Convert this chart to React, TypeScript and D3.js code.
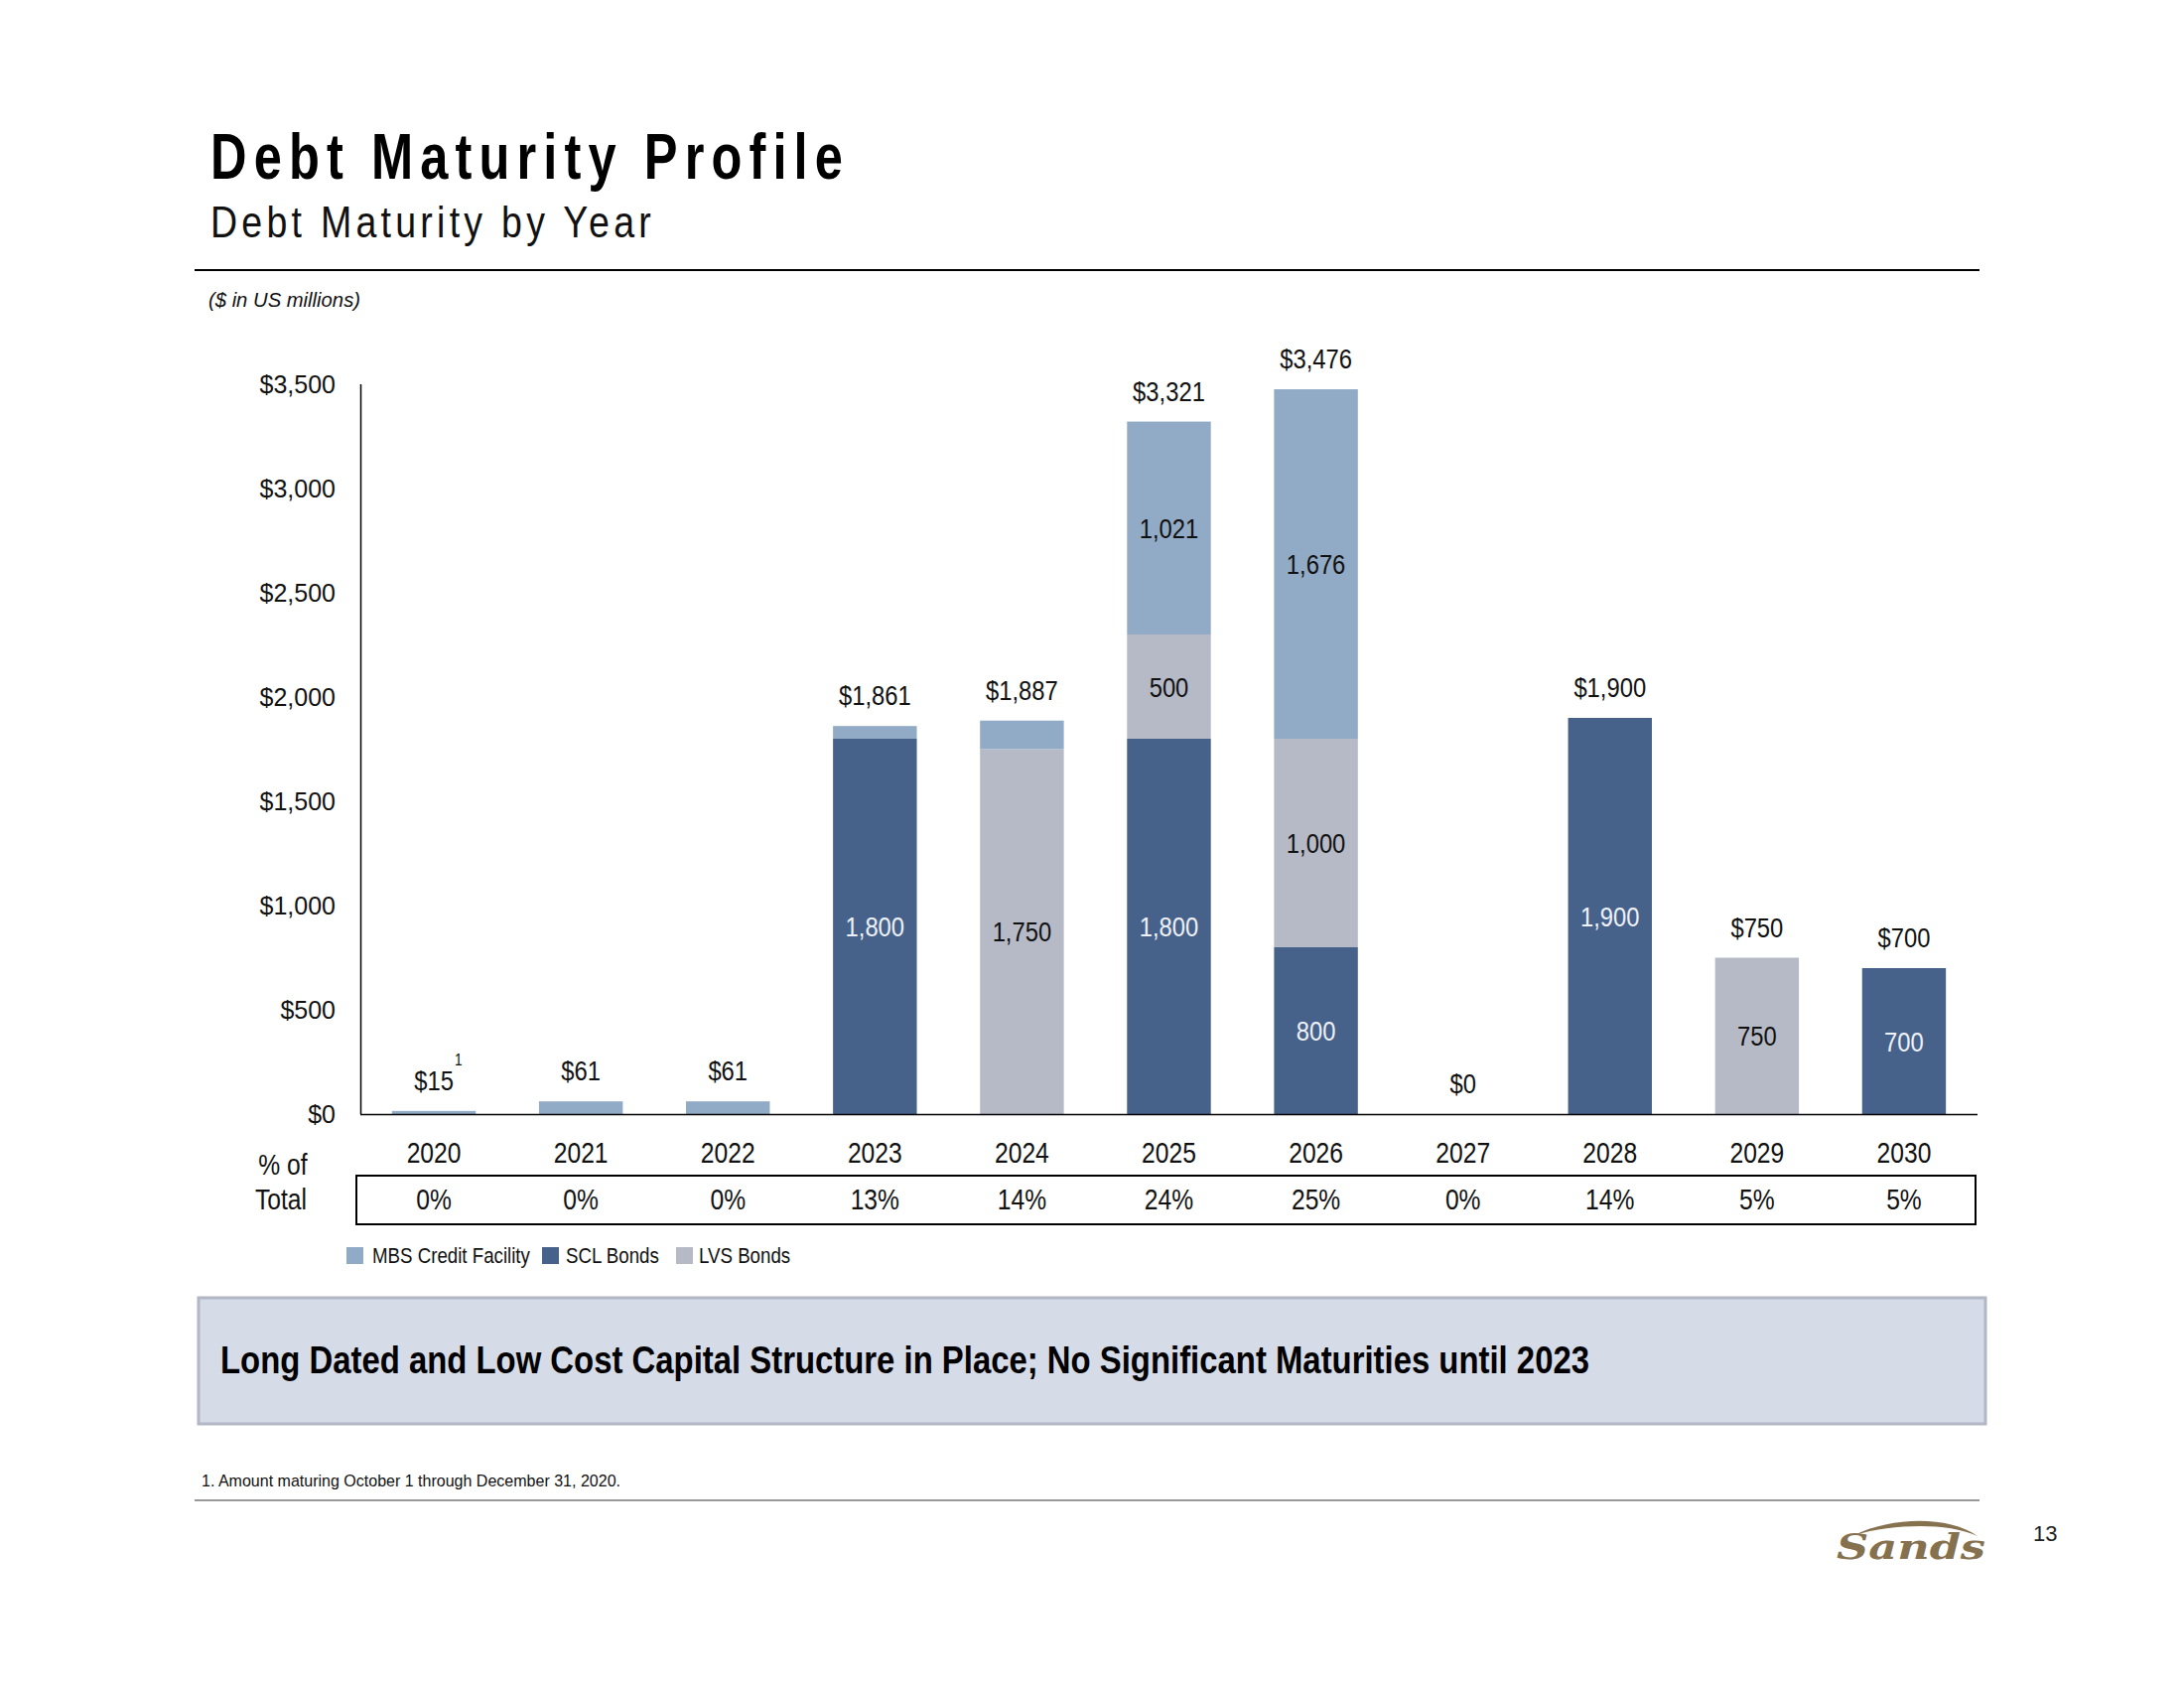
import React from "react";
import * as d3 from "d3";

const years = ["2020", "2021", "2022", "2023", "2024", "2025", "2026", "2027", "2028", "2029", "2030"];
const mbsCredit = [15, 61, 61, 61, 137, 1021, 1676, 0, 0, 0, 0];
const sclBonds = [0, 0, 0, 1800, 0, 1800, 800, 0, 1900, 0, 700];
const lvsBonds = [0, 0, 0, 0, 1750, 500, 1000, 0, 0, 750, 0];
const pctOfTotal = ["0%", "0%", "0%", "13%", "14%", "24%", "25%", "0%", "14%", "5%", "5%"];
const yTicks = [0, 500, 1000, 1500, 2000, 2500, 3000, 3500];
const seriesKeys = ["scl", "lvs", "mbs"];
const seriesNames = ["MBS Credit Facility", "SCL Bonds", "LVS Bonds"];

const COLORS: Record<string, string> = { mbs: "#91abc6", scl: "#46628a", lvs: "#b6bac7" };
const LABEL_COLORS: Record<string, string> = { mbs: "#111", scl: "#eef1f7", lvs: "#111" };
const SANS = "'Liberation Sans', Arial, sans-serif";

function NText(props: any) {
  const { x, y, sx = 0.85, children, ...rest } = props;
  return (
    <text transform={`translate(${x},${y}) scale(${sx},1)`} fontFamily={SANS} {...rest}>
      {children}
    </text>
  );
}

export default function App() {
  const rows = years.map((y, i) => ({ year: y, mbs: mbsCredit[i], scl: sclBonds[i], lvs: lvsBonds[i] }));
  const stacked = d3.stack<any>().keys(seriesKeys)(rows);
  const x = d3.scaleBand<string>().domain(years).range([363, 1992]).paddingInner(0.43).paddingOuter(0.215);
  const y = d3.scaleLinear().domain([0, 3500]).range([1122, 387]);
  const fmt = d3.format(",");
  const bw = x.bandwidth();
  const cx = (yr: string) => (x(yr) as number) + bw / 2;

  return (
    <svg width={2200} height={1700} style={{ position: "absolute", left: 0, top: 0, background: "#fff" }}>
      {/* Title */}
      <text x={212} y={180} fontFamily={SANS} fontWeight="bold" fontSize={64} letterSpacing={9} textLength={644} lengthAdjust="spacingAndGlyphs" fill="#000">
        Debt Maturity Profile
      </text>
      <text x={212} y={239} fontFamily={SANS} fontSize={44} letterSpacing={5} textLength={448} lengthAdjust="spacingAndGlyphs" fill="#111">
        Debt Maturity by Year
      </text>
      <line x1={196} x2={1994} y1={272} y2={272} stroke="#000" strokeWidth={2} />
      <text x={210} y={309} fontFamily={SANS} fontStyle="italic" fontSize={21} textLength={153} lengthAdjust="spacingAndGlyphs" fill="#111">
        ($ in US millions)
      </text>

      {/* Y axis */}
      {yTicks.map((t) => (
        <text key={t} x={338} y={y(t)} dy="0.35em" textAnchor="end" fontFamily={SANS} fontSize={25} fill="#111">
          {"$" + fmt(t)}
        </text>
      ))}
      <line x1={363.5} x2={363.5} y1={y(3500)} y2={y(0)} stroke="#000" strokeWidth={1.5} />

      {/* Bars */}
      {stacked.map((s) =>
        s.map((d, i) => {
          const v = d[1] - d[0];
          if (v <= 0) return null;
          return (
            <rect key={s.key + i} x={x(years[i])} width={bw} y={y(d[1])} height={y(d[0]) - y(d[1])} fill={COLORS[s.key]} />
          );
        })
      )}
      {stacked.map((s) =>
        s.map((d, i) => {
          const v = d[1] - d[0];
          if (v < 500) return null;
          return (
            <NText key={"l" + s.key + i} x={cx(years[i])} y={y((d[0] + d[1]) / 2)} dy="0.36em" textAnchor="middle" fontSize={28} fill={LABEL_COLORS[s.key]}>
              {fmt(v)}
            </NText>
          );
        })
      )}
      <line x1={363} x2={1992} y1={1122.5} y2={1122.5} stroke="#000" strokeWidth={1.5} />

      {/* Totals */}
      {rows.map((r, i) => {
        const tot = r.mbs + r.scl + r.lvs;
        return (
          <NText key={"t" + i} x={cx(r.year)} y={y(tot) - 21} textAnchor="middle" fontSize={28} fill="#111">
            {"$" + fmt(tot)}
          </NText>
        );
      })}
      <NText x={cx(years[0]) + 21} y={1073} fontSize={16} fill="#111">1</NText>

      {/* Year labels & % table */}
      {years.map((yr) => (
        <NText key={"y" + yr} x={cx(yr)} y={1171} textAnchor="middle" fontSize={29} fill="#111">
          {yr}
        </NText>
      ))}
      <NText x={285} y={1183} textAnchor="middle" fontSize={29} fill="#111">% of</NText>
      <NText x={283} y={1218} textAnchor="middle" fontSize={29} fill="#111">Total</NText>
      <rect x={359} y={1184} width={1631} height={49} fill="none" stroke="#000" strokeWidth={2} />
      {pctOfTotal.map((p, i) => (
        <NText key={"p" + i} x={cx(years[i])} y={1218} textAnchor="middle" fontSize={29} fill="#111">
          {p}
        </NText>
      ))}

      {/* Legend */}
      {[
        { k: "mbs", sx: 349, tx: 375 },
        { k: "scl", sx: 546, tx: 570 },
        { k: "lvs", sx: 681, tx: 704 },
      ].map((l, i) => (
        <g key={l.k}>
          <rect x={l.sx} y={1256} width={17} height={17} fill={COLORS[l.k]} />
          <NText x={l.tx} y={1272} fontSize={22} fill="#111">
            {seriesNames[i]}
          </NText>
        </g>
      ))}

      {/* Banner */}
      <rect x={200} y={1307} width={1800} height={127} fill="#d5dbe7" stroke="#b2b6c5" strokeWidth={3} />
      <text x={222} y={1383} fontFamily={SANS} fontWeight="bold" fontSize={39} textLength={1379} lengthAdjust="spacingAndGlyphs" fill="#000">
        Long Dated and Low Cost Capital Structure in Place; No Significant Maturities until 2023
      </text>

      {/* Footnote */}
      <text x={203} y={1497} fontFamily={SANS} fontSize={17} textLength={422} lengthAdjust="spacingAndGlyphs" fill="#111">
        1. Amount maturing October 1 through December 31, 2020.
      </text>
      <line x1={196} x2={1994} y1={1511} y2={1511} stroke="#999" strokeWidth={2} />
      <text x={2048} y={1552} fontFamily={SANS} fontSize={22} fill="#222">13</text>

      {/* Logo */}
      <path d="M1868,1546 C1905,1528 1962,1526 1992,1547 C1960,1533 1908,1535 1868,1546 Z" fill="#86714f" />
      <text x={1850} y={1570} fontFamily="'DejaVu Serif', serif" fontStyle="italic" fontWeight="bold" fontSize={36} textLength={150} lengthAdjust="spacingAndGlyphs" fill="#86714f">
        Sands
      </text>
    </svg>
  );
}
